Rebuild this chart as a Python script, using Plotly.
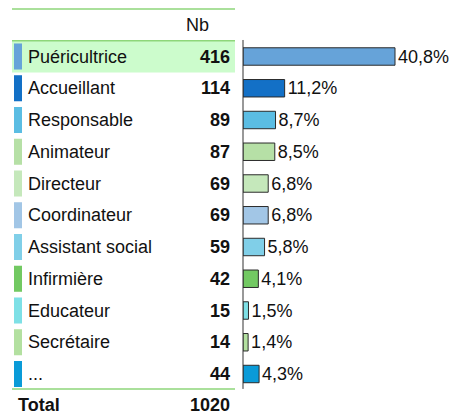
import plotly.graph_objects as go

# Data
roles = ["Puéricultrice", "Accueillant", "Responsable", "Animateur", "Directeur",
         "Coordinateur", "Assistant social", "Infirmière", "Educateur", "Secrétaire", "..."]
counts = [416, 114, 89, 87, 69, 69, 59, 42, 15, 14, 44]
total = 1020
colors = ["#66a3d9", "#1370c6", "#5bbde3", "#b6e0a6", "#c5e8bb", "#a2c6e6",
          "#80cfe8", "#72c962", "#7ee0e6", "#b3e0a0", "#0a9bd8"]

W, H = 453, 414
FONT = "Liberation Sans, Arial, sans-serif"
GREEN = "#8ed67a"
FS = 18

pct_text = [f"{c / total * 100:.1f}%".replace(".", ",") for c in counts]
rows = list(range(len(roles)))

fig = go.Figure()

# bars on the right
fig.add_trace(go.Bar(
    x=counts, y=rows, orientation="h",
    marker=dict(color=colors, line=dict(color="#2b2b2b", width=1)),
    width=0.55,
    text=pct_text, textposition="outside", constraintext="none", cliponaxis=False,
    textfont=dict(family=FONT, size=FS, color="#111"),
    hoverinfo="skip",
))

shapes = []
# highlighted first row
shapes.append(dict(type="rect", xref="paper", yref="y", x0=12 / W, x1=235 / W,
                   y0=-0.5, y1=0.5, fillcolor="#ccfccc", line=dict(width=0), layer="below"))
# green table lines
for yy in (-1.5, -0.5, 10.47):
    shapes.append(dict(type="line", xref="paper", yref="y", x0=12 / W, x1=235 / W,
                       y0=yy, y1=yy, line=dict(color=GREEN, width=1.5)))
# colour swatches
for i, c in enumerate(colors):
    shapes.append(dict(type="rect", xref="paper", yref="y", x0=14 / W, x1=22 / W,
                       y0=i - 0.41, y1=i + 0.41, fillcolor=c, line=dict(width=0)))
# axis line of the bars
shapes.append(dict(type="line", xref="paper", yref="y", x0=243 / W, x1=243 / W,
                   y0=-0.52, y1=10.47, line=dict(color="#333", width=1)))

annotations = []
for i, (r, c) in enumerate(zip(roles, counts)):
    annotations.append(dict(xref="paper", yref="y", x=26 / W, y=i, text=r, showarrow=False,
                            xanchor="left", font=dict(family=FONT, size=FS, color="#111")))
    annotations.append(dict(xref="paper", yref="y", x=232 / W, y=i, text=f"<b>{c}</b>",
                            showarrow=False, xanchor="right",
                            font=dict(family=FONT, size=FS, color="#111")))
annotations.append(dict(xref="paper", yref="y", x=197 / W, y=-1.0, text="Nb", showarrow=False,
                        font=dict(family=FONT, size=FS, color="#111")))
annotations.append(dict(xref="paper", yref="y", x=16 / W, y=10.97, text="<b>Total</b>",
                        showarrow=False, xanchor="left",
                        font=dict(family=FONT, size=FS, color="#111")))
annotations.append(dict(xref="paper", yref="y", x=232 / W, y=10.97, text=f"<b>{total}</b>",
                        showarrow=False, xanchor="right",
                        font=dict(family=FONT, size=FS, color="#111")))

fig.update_layout(
    width=W, height=H,
    margin=dict(l=0, r=0, t=0, b=0),
    paper_bgcolor="white", plot_bgcolor="white",
    showlegend=False,
    xaxis=dict(domain=[243 / W, 1], range=[0, 416 * 210 / 152], visible=False),
    yaxis=dict(range=[(H - 56.5) / 31.75, -56.5 / 31.75], visible=False),
    shapes=shapes, annotations=annotations,
)

# the page's default body margin would push the figure off the window
fig.write_html("out.html", config={"displayModeBar": False},
               post_script="document.body.style.margin='0';")
